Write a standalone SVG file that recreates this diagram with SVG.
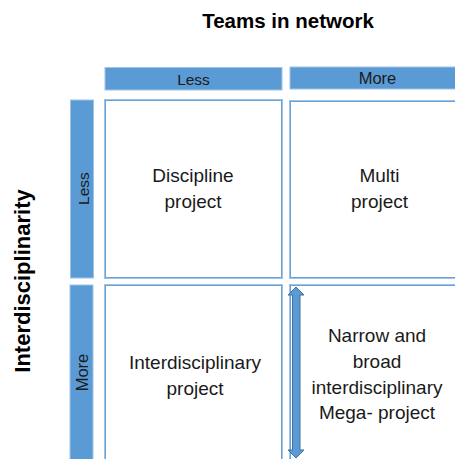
<svg xmlns="http://www.w3.org/2000/svg" width="455" height="459" viewBox="0 0 455 459">
<style>
text{font-family:"Liberation Sans",Arial,sans-serif;fill:#1a1a1a;text-anchor:middle}
.title{font-weight:bold;font-size:20.5px;fill:#000}
.hdr{fill:#5b9bd5;stroke:#9dc3e6;stroke-width:1}
.cell{fill:#fff;stroke:#9dc3e6;stroke-width:2}
.cellin{fill:none;stroke:#5b9bd5;stroke-width:0.8}
.lbl{font-size:15.5px}
.body{font-size:19px}
</style>
<rect width="455" height="459" fill="#fff"/>
<g id="title-top"><text class="title" x="288" y="28">Teams in network</text></g>
<g id="title-left"><text class="title" transform="translate(30,281) rotate(-90)" style="font-size:22px">Interdisciplinarity</text></g>
<g id="col-less"><rect class="hdr" x="105" y="67.5" width="177" height="22.5"/><text class="lbl" x="193.5" y="85">Less</text></g>
<g id="col-more"><rect class="hdr" x="290" y="67" width="170" height="22"/><text class="lbl" x="377.5" y="83.5" style="font-size:16.5px">More</text></g>
<g id="row-less"><rect class="hdr" x="70.5" y="100" width="23" height="178"/><text class="lbl" transform="translate(88.5,188.5) rotate(-90)">Less</text></g>
<g id="row-more"><rect class="hdr" x="70" y="285" width="23" height="180"/><text class="lbl" transform="translate(88,372.5) rotate(-90)" style="font-size:16.5px">More</text></g>
<g id="cell-discipline"><rect class="cell" x="105" y="100" width="177" height="178"/><rect class="cellin" x="105.5" y="100.5" width="176" height="177"/><text class="body" x="193" y="182">Discipline</text><text class="body" x="193" y="208">project</text></g>
<g id="cell-multi"><rect class="cell" x="290" y="101" width="175" height="177"/><rect class="cellin" x="290.5" y="101.5" width="174" height="176"/><text class="body" x="379.5" y="182">Multi</text><text class="body" x="379.5" y="208">project</text></g>
<g id="cell-interdisciplinary"><rect class="cell" x="105" y="285" width="177" height="180"/><rect class="cellin" x="105.5" y="285.5" width="176" height="179"/><text class="body" x="195" y="369">Interdisciplinary</text><text class="body" x="195" y="395">project</text></g>
<g id="cell-mega"><rect class="cell" x="290" y="285" width="175" height="180"/><rect class="cellin" x="290.5" y="285.5" width="174" height="179"/><text class="body" x="377" y="342">Narrow and</text><text class="body" x="377" y="368">broad</text><text class="body" x="377" y="393.5">interdisciplinary</text><text class="body" x="377" y="418.5">Mega- project</text></g>
<g id="connectors"><path d="M296,287 L304,295 L300,295 L300,450 L304,450 L296,458 L288,450 L292.5,450 L292.5,295 L288,295 Z" fill="#5b9bd5" stroke="#41719c" stroke-width="1"/></g>
</svg>
